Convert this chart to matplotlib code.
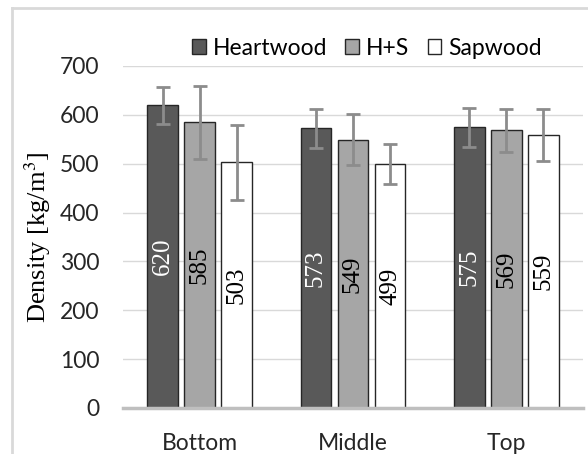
import numpy as np
import matplotlib.pyplot as plt
from matplotlib.lines import Line2D

plt.rcParams['mathtext.fontset'] = 'stix'

# Data
positions = ['Bottom', 'Middle', 'Top']
series = ['Heartwood', 'H+S', 'Sapwood']
heartwood = [620, 573, 575]
hs = [585, 549, 569]
sapwood = [503, 499, 559]
heartwood_err = [38, 40, 40]
hs_err = [75, 52, 44]
sapwood_err = [77, 41, 53]

colors = ['#595959', '#a6a6a6', '#ffffff']
text_colors = ['white', 'black', 'black']

fig = plt.figure(figsize=(5.88, 4.54), dpi=100)
ax = fig.add_axes([123/588, 46/454, 460/588, 342/454])

x = np.arange(len(positions))
width = 0.2
step = 0.242
values = [heartwood, hs, sapwood]
errs = [heartwood_err, hs_err, sapwood_err]

for i in range(3):
    bars = ax.bar(x + (i - 1) * step, values[i], width, color=colors[i],
                  edgecolor='#262626', linewidth=1.0, label=series[i], zorder=2)
    ax.errorbar(x + (i - 1) * step, values[i], yerr=errs[i], fmt='none',
                ecolor='#8c8c8c', elinewidth=2, capsize=5, capthick=2, zorder=3)
    ax.bar_label(bars, labels=[str(v) for v in values[i]], label_type='center',
                 rotation=90, color=text_colors[i], fontsize=18,
                 family='Liberation Serif')

ax.set_xlim(-0.5, 2.5)
ax.set_ylim(0, 700)
ax.set_yticks(range(0, 701, 100))
ax.set_xticks(x)
ax.set_xticklabels(positions)
ax.grid(axis='y', color='#d9d9d9', linewidth=1, zorder=0)
ax.set_axisbelow(True)
for s in ['left', 'right', 'top']:
    ax.spines[s].set_visible(False)
ax.spines['bottom'].set_color('#bfbfbf')
ax.spines['bottom'].set_linewidth(2.5)
ax.tick_params(axis='both', length=0, labelsize=16.5, colors='#262626')
ax.tick_params(axis='y', pad=17)
ax.tick_params(axis='x', pad=18)
for lab in ax.get_xticklabels() + ax.get_yticklabels():
    lab.set_family('Lato')

ax.set_ylabel('Density [kg/m$^3$]', family='Liberation Serif', fontsize=19,
              labelpad=5)

leg = ax.legend(loc='lower center', bbox_to_anchor=(0.53, 0.995), ncol=3,
                frameon=False, prop={'family': 'Lato', 'size': 16.5},
                handlelength=0.6, handleheight=0.6, handletextpad=0.3,
                columnspacing=0.8, borderaxespad=0)

# chart border
fig.add_artist(Line2D([12/588, 12/588], [0, 1 - 8/454], color='#d9d9d9', lw=2))
fig.add_artist(Line2D([12/588, 1], [1 - 8/454, 1 - 8/454], color='#d9d9d9', lw=2))

plt.savefig('out.png', dpi=100)
